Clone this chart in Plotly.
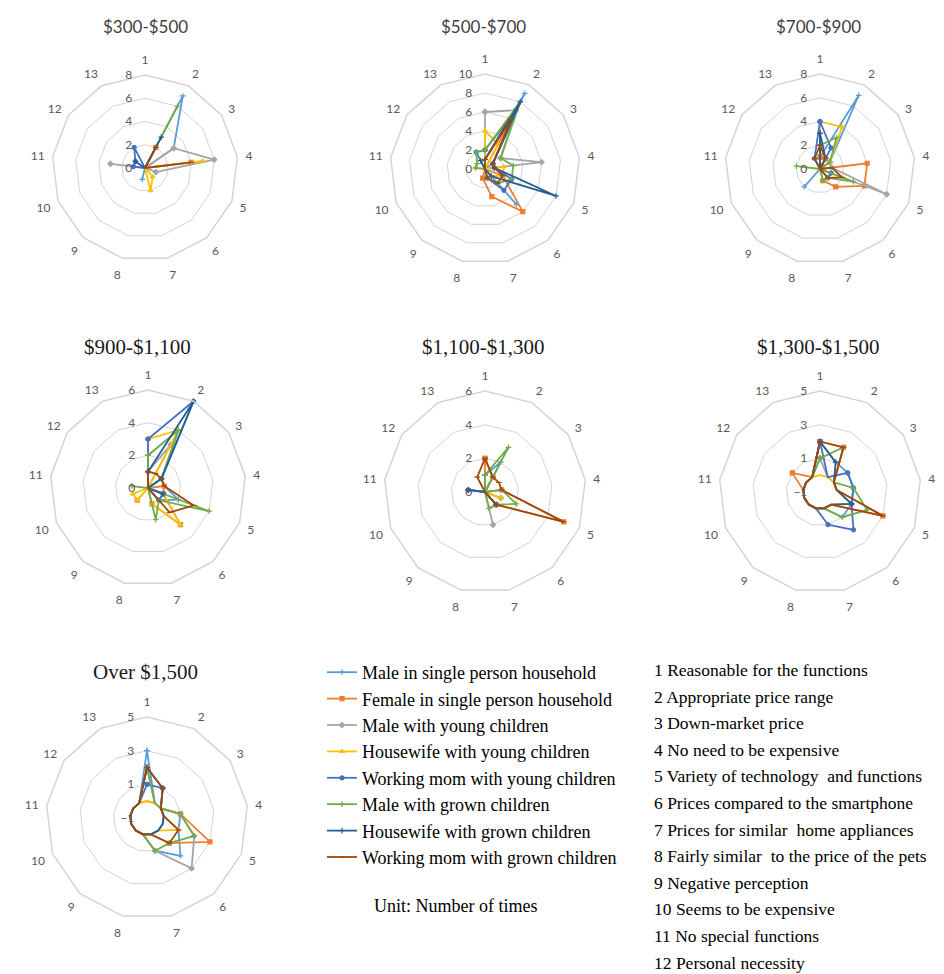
import plotly.graph_objects as go

W, H = 944, 974

# Reasons 1..13 around each radar
categories = [str(i) for i in range(1, 14)]

series_names = [
    "Male in single person household",
    "Female in single person household",
    "Male with young children",
    "Housewife with young children",
    "Working mom with young children",
    "Male with grown children",
    "Housewife with grown children",
    "Working mom with grown children",
]
series_colors = ["#5B9BD5", "#ED7D31", "#A5A5A5", "#FFC000",
                 "#4472C4", "#70AD47", "#255E91", "#9E480E"]
series_symbols = ["cross-thin", "square", "diamond", "triangle-up",
                  "circle", "cross-thin", "cross-thin", "line-ew"]

price_ranges = ["$300-$500", "$500-$700", "$700-$900", "$900-$1,100",
                "$1,100-$1,300", "$1,300-$1,500", "Over $1,500"]

# Number of times each reason was mentioned (rows: series, cols: reasons 1..13)
v_300_500 = [
    [0, 7, 3, 0, 0, 0, 0, 1, 0, 0, 0, 0, 0],
    [0, 2, 0, 4, 0, 0, 0, 0, 0, 0, 0, 0, 0],
    [0, 0, 3, 6, 1, 0, 0, 0, 0, 0, 3, 0, 0],
    [0, 0, 0, 5, 0, 1, 2, 0, 0, 0, 0, 0, 0],
    [0, 0, 0, 0, 0, 0, 0, 0, 0, 0, 1, 1, 2],
    [0, 6, 0, 0, 0, 0, 0, 0, 0, 0, 0, 0, 0],
    [0, 3, 0, 0, 0, 0, 0, 0, 0, 0, 0, 1, 0],
    [0, 2, 0, 4, 0, 0, 0, 0, 0, 0, 0, 0, 0],
]
v_500_700 = [
    [1, 9, 1, 0, 0, 5, 0, 0, 0, 0, 0, 0, 0],
    [0, 6, 0, 0, 2, 6, 3, 1, 0, 0, 0, 0, 0],
    [6, 7, 2, 6, 0, 0, 0, 0, 0, 0, 0, 0, 0],
    [4, 3, 0, 2, 2, 1, 0, 0, 0, 0, 1, 0, 0],
    [2, 7, 1, 1, 3, 3, 1, 0, 0, 0, 0, 0, 2],
    [2, 8, 2, 3, 3, 2, 1, 0, 0, 0, 1, 1, 2],
    [1, 8, 1, 1, 8, 1, 0, 0, 0, 0, 0, 0, 1],
    [1, 6, 1, 1, 2, 2, 1, 0, 0, 0, 0, 0, 0],
]
v_700_900 = [
    [1, 7, 1, 0, 0, 0, 0, 0, 2, 0, 0, 0, 0],
    [1, 1, 0, 4, 4, 2, 1, 0, 0, 0, 0, 0, 0],
    [0, 1, 1, 1, 6, 0, 0, 0, 0, 0, 0, 0, 0],
    [4, 4, 1, 0, 1, 0, 0, 0, 0, 0, 0, 0, 0],
    [4, 2, 0, 0, 1, 1, 0, 0, 0, 0, 0, 0, 1],
    [2, 3, 1, 0, 3, 1, 1, 0, 0, 0, 2, 0, 0],
    [3, 1, 0, 0, 0, 0, 0, 0, 0, 0, 0, 0, 0],
    [2, 1, 0, 1, 2, 1, 0, 0, 0, 0, 0, 0, 1],
]
v_900_1100 = [
    [2, 4, 1, 1, 2, 1, 0, 0, 0, 0, 0, 0, 0],
    [0, 0, 0, 1, 1, 3, 1, 0, 1, 0, 0, 0, 0],
    [1, 3, 0, 0, 1, 1, 0, 0, 0, 0, 0, 0, 0],
    [3, 4, 0, 0, 1, 3, 1, 0, 1, 1, 0, 0, 0],
    [3, 6, 1, 0, 1, 1, 0, 0, 0, 0, 0, 0, 0],
    [2, 4, 1, 0, 4, 1, 2, 0, 0, 0, 1, 0, 0],
    [1, 6, 1, 0, 1, 0, 0, 0, 0, 0, 0, 0, 0],
    [1, 1, 1, 1, 3, 2, 0, 0, 0, 0, 0, 0, 0],
]
v_1100_1300 = [
    [1, 2, 0, 0, 1, 0, 0, 0, 0, 0, 1, 0, 0],
    [2, 1, 0, 1, 5, 1, 0, 0, 0, 0, 0, 0, 0],
    [0, 1, 0, 0, 1, 0, 2, 0, 0, 0, 1, 0, 0],
    [0, 0, 0, 0, 1, 0, 0, 0, 0, 0, 0, 0, 0],
    [0, 0, 0, 0, 0, 1, 0, 0, 0, 0, 1, 0, 0],
    [1, 3, 0, 1, 2, 1, 1, 0, 0, 0, 0, 0, 0],
    [0, 0, 0, 0, 0, 1, 0, 0, 0, 0, 1, 0, 0],
    [2, 1, 1, 1, 5, 1, 0, 0, 0, 0, 0, 0, 1],
]
v_1300_1500 = [
    [2, 1, 1, 1, 1, 1, 0, 0, 0, 0, 0, 0, 0],
    [2, 2, 0, 0, 3, 0, 0, 0, 0, 0, 0, 1, 0],
    [1, 0, 0, 0, 1, 0, 0, 0, 0, 0, 0, 0, 0],
    [0, 0, 0, 0, 1, 0, 0, 0, 0, 0, 0, 0, 0],
    [2, 0, 1, 1, 1, 2, 1, 0, 0, 0, 0, 0, 0],
    [1, 2, 0, 1, 2, 1, 0, 0, 0, 0, 0, 0, 0],
    [2, 1, 0, 0, 1, 0, 0, 0, 0, 0, 0, 0, 0],
    [2, 2, 0, 0, 3, 0, 0, 0, 0, 0, 0, 0, 0],
]
v_over_1500 = [
    [3, 0, 0, 1, 1, 2, 1, 0, 0, 0, 0, 0, 0],
    [0, 0, 0, 1, 3, 1, 0, 0, 0, 0, 0, 0, 0],
    [2, 0, 0, 1, 2, 3, 1, 0, 0, 0, 0, 0, 0],
    [0, 0, 0, 0, 1, 0, 0, 0, 0, 0, 0, 0, 0],
    [1, 1, 0, 0, 0, 0, 0, 0, 0, 0, 0, 0, 0],
    [2, 0, 0, 1, 2, 1, 1, 0, 0, 0, 0, 0, 0],
    [2, 1, 0, 0, 0, 0, 0, 0, 0, 0, 0, 0, 0],
    [2, 1, 0, 0, 1, 1, 0, 0, 0, 0, 0, 0, 0],
]
chart_values = [v_300_500, v_500_700, v_700_900, v_900_1100,
                v_1100_1300, v_1300_1500, v_over_1500]

# Radial axis scale of each chart: (min, max)
radial_ranges = [(0, 8), (0, 10), (0, 8), (0, 6), (0, 6), (-1, 5), (-1, 5)]

reason_labels = [
    "1 Reasonable for the functions",
    "2 Appropriate price range",
    "3 Down-market price",
    "4 No need to be expensive",
    "5 Variety of technology  and functions",
    "6 Prices compared to the smartphone",
    "7 Prices for similar  home appliances",
    "8 Fairly similar  to the price of the pets",
    "9 Negative perception",
    "10 Seems to be expensive",
    "11 No special functions",
    "12 Personal necessity",
]

# Placement of each radar on the page (pixels): centre x, centre y, radius,
# title centre x, title centre y
placement = [
    (145, 168, 93, 145, 27), (485, 169, 95, 483, 27), (820, 169, 95, 818, 27),
    (148, 488, 98, 137, 347), (485, 492, 101, 483, 347), (820, 492, 101, 818, 347),
    (147, 818, 101, 145, 672),
]
sans_title = dict(family="Lato", size=17, color="#404040")
serif_title = dict(family="Liberation Serif", size=21, color="#1a1a1a")
tick_font = dict(family="Lato", size=12, color="#595959")
GRID = "#d4d4d4"

fig = go.Figure()
layout_polars = {}
annotations = []

theta_closed = categories + [categories[0]]

for k, (name, values) in enumerate(zip(price_ranges, chart_values)):
    pid = "polar" if k == 0 else f"polar{k + 1}"
    cx, cy, R, tx, ty = placement[k]
    rmin, rmax = radial_ranges[k]
    for s in range(len(series_names)):
        vals = values[s]
        fig.add_trace(go.Scatterpolar(
            r=vals + [vals[0]],
            theta=theta_closed,
            mode="lines+markers",
            name=series_names[s],
            legendgroup=series_names[s],
            showlegend=(k == 0),
            line=dict(color=series_colors[s], width=1.8),
            marker=dict(color=series_colors[s], size=4,
                        symbol=series_symbols[s],
                        line=dict(color=series_colors[s], width=1.2)),
            subplot=pid,
        ))
    layout_polars[pid] = dict(
        domain=dict(x=[(cx - R) / W, (cx + R) / W],
                    y=[1 - (cy + R) / H, 1 - (cy - R) / H]),
        bgcolor="rgba(0,0,0,0)",
        gridshape="linear",
        angularaxis=dict(type="category", categoryarray=categories,
                         rotation=90, direction="clockwise",
                         showgrid=False, showline=True, linecolor=GRID,
                         linewidth=1.5, ticks="outside", ticklen=5,
                         tickcolor="rgba(0,0,0,0)", tickfont=tick_font),
        radialaxis=dict(range=[rmin, rmax], tickmode="linear", tick0=rmin,
                        dtick=2, showline=False, ticks="outside", ticklen=8,
                        tickcolor="rgba(0,0,0,0)",
                        gridcolor=GRID, gridwidth=1.4, angle=90, tickangle=90,
                        side="counterclockwise", tickfont=tick_font),
    )
    annotations.append(dict(
        text=name, x=tx / W, y=1 - ty / H, xref="paper", yref="paper",
        xanchor="center", yanchor="middle", showarrow=False,
        font=sans_title if k < 3 else serif_title,
    ))

list_font = dict(family="Liberation Serif", size=17.5, color="#000000")
legend_font = dict(family="Liberation Serif", size=18, color="#000000")
for i, label in enumerate(reason_labels):
    annotations.append(dict(
        text=label, x=652 / W, y=1 - (670 + 26.6 * i) / H,
        xref="paper", yref="paper", xanchor="left", yanchor="middle",
        showarrow=False, font=list_font,
    ))
annotations.append(dict(
    text="Unit: Number of times", x=372 / W, y=1 - 906 / H,
    xref="paper", yref="paper", xanchor="left", yanchor="middle",
    showarrow=False, font=legend_font,
))

fig.update_layout(
    width=W, height=H,
    margin=dict(l=0, r=0, t=0, b=0),
    paper_bgcolor="white",
    plot_bgcolor="white",
    showlegend=True,
    legend=dict(x=322 / W, y=1 - 654 / H, xanchor="left", yanchor="top",
                font=legend_font, itemwidth=30, tracegroupgap=0,
                bgcolor="rgba(0,0,0,0)"),
    annotations=annotations,
    **layout_polars,
)

fig.write_html("out.html")
